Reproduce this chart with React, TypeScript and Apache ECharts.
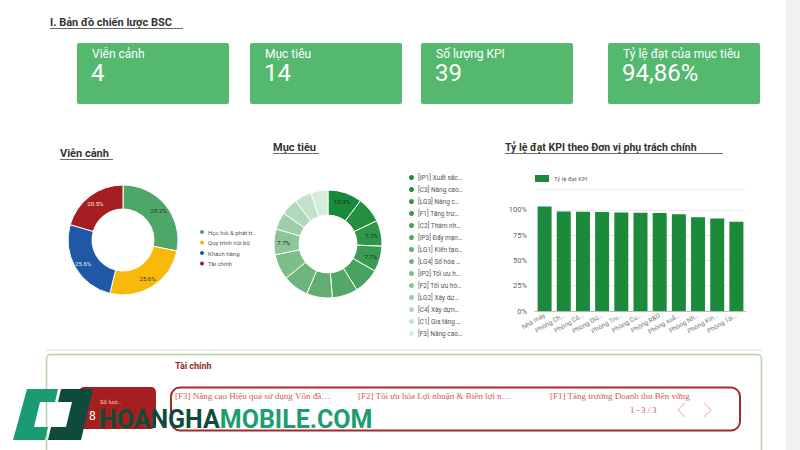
import React, { useEffect, useRef } from "react";
import * as echarts from "echarts";

const cardLabels = ["Viễn cảnh", "Mục tiêu", "Số lượng KPI", "Tỷ lệ đạt của mục tiêu"];
const cardValues = ["4", "14", "39", "94,86%"];

const vienCanhNames = ["Học hỏi & phát triển", "Quy trình nội bộ", "Khách hàng", "Tài chính"];
const vienCanhValues = [11, 10, 10, 8];

const mucTieuNames = [
  "[IP1] Xuất sắc…",
  "[C3] Nâng cao…",
  "[LG3] Nâng c…",
  "[F1] Tăng trư…",
  "[C2] Thâm nh…",
  "[IP3] Đẩy mạn…",
  "[LG1] Kiến tạo…",
  "[LG4] Số hóa …",
  "[IP2] Tối ưu h…",
  "[F2] Tối ưu hó…",
  "[LG2] Xây dự…",
  "[C4] Xây dựn…",
  "[C1] Gia tăng …",
  "[F3] Nâng cao…",
];
const mucTieuValues = [4, 3, 3, 3, 3, 3, 3, 3, 3, 3, 2, 2, 2, 2];
const mucTieuLabeled = [0, 2, 3, 9];

const donViNames = [
  "Nhà máy",
  "Phòng Ch…",
  "Phòng Cô…",
  "Phòng Dic…",
  "Phòng Tru…",
  "Phòng Cu…",
  "Phòng R&D",
  "Phòng xuấ…",
  "Phòng Nh…",
  "Phòng Kin…",
  "Phòng Tài…",
];
const tyLeDatKPI = [103.2, 98.2, 98.0, 97.8, 97.2, 97.0, 96.8, 95.6, 92.6, 91.4, 88.2];
const yTicks = [0, 25, 50, 75, 100];

const taiChinhTitle = "Tài chính";
const taiChinhCount = "8";
const taiChinhMucTieu = [
  "[F3] Nâng cao Hiệu quả sử dụng Vốn đầ…",
  "[F2] Tối ưu hóa Lợi nhuận & Biên lợi n…",
  "[F1] Tăng trưởng Doanh thu Bền vững",
];
const pagerText = "1 - 3 / 3";

const vienCanhColors = ["#4ea768", "#f9b90b", "#1f58a6", "#a51f22"];
const vienCanhLabelColors = ["#333", "#333", "#e8eef8", "#f5e6e6"];
const mucTieuColors = [
  "#188a3b", "#22903f", "#2e9649", "#3a9c52", "#46a25c", "#53a866", "#60ae71",
  "#6db57c", "#7cbd89", "#8cc597", "#9ecea7", "#b1d8b8", "#c4e2ca", "#d8ecdc",
];

const FONT = "Roboto, Arial, sans-serif";

export default function App() {
  const ref = useRef<HTMLDivElement>(null);
  useEffect(() => {
    if (!ref.current) return;
    const chart = echarts.init(ref.current, undefined, { renderer: "svg" });

    const cardX = [77, 250, 421, 608];
    const cardW = 152;
    const elements: any[] = [];
    elements.push({ type: "rect", shape: { x: 786, y: 0, width: 14, height: 450 }, style: { fill: "#f1f1f1" }, z: 0 });
    elements.push({
      type: "text", x: 50, y: 22,
      style: { text: "I. Bản đồ chiến lược BSC", fill: "#333", fontSize: 11, fontWeight: "bold", fontFamily: FONT, verticalAlign: "middle" },
    });
    elements.push({ type: "line", shape: { x1: 50, y1: 28.5, x2: 183, y2: 28.5 }, style: { stroke: "#444", lineWidth: 0.8 } });
    cardLabels.forEach((lab, i) => {
      elements.push({ type: "rect", shape: { x: cardX[i], y: 43, width: cardW, height: 61, r: 2 }, style: { fill: "#54b96f" } });
      elements.push({
        type: "text", x: cardX[i] + 15, y: 54,
        style: { text: lab, fill: "#fff", fontSize: 12, fontFamily: FONT, verticalAlign: "middle" },
      });
      elements.push({
        type: "text", x: cardX[i] + 14, y: 73,
        style: { text: cardValues[i], fill: "#fff", fontSize: 24, fontFamily: FONT, verticalAlign: "middle" },
      });
    });
    const secTitles: [string, number, number, number, number][] = [
      ["Viễn cảnh", 60, 153, 11, 53],
      ["Mục tiêu", 273, 147, 11, 46],
      ["Tỷ lệ đạt KPI theo Đơn vị phụ trách chính", 505, 147, 10.5, 218],
    ];
    secTitles.forEach(([t, x, y, fs, w]) => {
      elements.push({
        type: "text", x, y,
        style: { text: t, fill: "#333", fontSize: fs, fontWeight: "bold", fontFamily: FONT, verticalAlign: "middle" },
      });
      elements.push({ type: "line", shape: { x1: x, y1: y + 6.5, x2: x + w, y2: y + 6.5 }, style: { stroke: "#444", lineWidth: 0.8 } });
    });
    elements.push({ type: "line", shape: { x1: 46, y1: 350, x2: 762, y2: 350 }, style: { stroke: "#d6e4d0", lineWidth: 1 } });
    elements.push({ type: "rect", shape: { x: 46.5, y: 354.5, width: 715, height: 120, r: 4 }, style: { fill: "#fff", stroke: "#b5d2a8", lineWidth: 1.5 } });
    elements.push({
      type: "text", x: 175, y: 366,
      style: { text: taiChinhTitle, fill: "#8c2a2a", fontSize: 9, fontWeight: "bold", fontFamily: FONT, verticalAlign: "middle" },
    });
    elements.push({ type: "rect", shape: { x: 79, y: 387, width: 77, height: 42, r: 5 }, style: { fill: "#a61f1f" } });
    elements.push({
      type: "text", x: 100, y: 401,
      style: { text: "Số lượ…", fill: "#f3d6d6", fontSize: 6, fontFamily: FONT, verticalAlign: "middle" },
    });
    elements.push({
      type: "text", x: 89, y: 416,
      style: { text: taiChinhCount, fill: "#fff", fontSize: 12, fontFamily: FONT, verticalAlign: "middle" },
    });
    elements.push({ type: "rect", shape: { x: 171, y: 387.5, width: 569, height: 43, r: 9 }, style: { fill: "none", stroke: "#a3282c", lineWidth: 2 } });
    const mtX = [175, 358, 550];
    taiChinhMucTieu.forEach((t, i) => {
      elements.push({
        type: "text", x: mtX[i], y: 396,
        style: { text: t, fill: "#d05a55", fontSize: 9, fontFamily: "'Liberation Serif', serif", verticalAlign: "middle" },
      });
    });
    elements.push({
      type: "text", x: 630, y: 410,
      style: { text: pagerText, fill: "#c45a5a", fontSize: 8.5, fontFamily: "'Liberation Serif', serif", verticalAlign: "middle" },
    });
    elements.push({ type: "polyline", shape: { points: [[685, 403], [678, 410], [685, 417]] }, style: { stroke: "#f2c4c4", lineWidth: 1.2, fill: "none" } });
    elements.push({ type: "polyline", shape: { points: [[704, 403], [711, 410], [704, 417]] }, style: { stroke: "#f2c4c4", lineWidth: 1.2, fill: "none" } });
    // watermark logo
    elements.push({
      type: "polygon", z: 100,
      shape: { points: [[27, 389], [58, 389], [55, 402], [40, 402], [34, 427], [48, 427], [45, 440], [13, 440]] },
      style: { fill: "#1a9b74" },
    });
    elements.push({
      type: "polygon", z: 100,
      shape: { points: [[61, 389], [93, 389], [81, 440], [48, 440], [51, 427], [66, 427], [72, 402], [58, 402]] },
      style: { fill: "#0e4b3b" },
    });
    elements.push({
      type: "text", x: 99, y: 419, z: 100,
      style: {
        text: "{a|HOANGHA}{b|MOBILE.COM}",
        verticalAlign: "middle",
        rich: {
          a: { fill: "#0e4b3b", fontSize: 25, fontWeight: "bold", fontFamily: FONT },
          b: { fill: "#1f9c70", fontSize: 25, fontWeight: "bold", fontFamily: FONT },
        },
      },
    });

    const option: any = {
      animation: false,
      backgroundColor: "#fff",
      textStyle: { fontFamily: FONT },
      legend: [
        {
          data: vienCanhNames,
          orient: "vertical",
          left: 193,
          top: 223,
          icon: "circle",
          itemWidth: 6,
          itemHeight: 6,
          itemGap: 2.5,
          formatter: (n: string) => (n.length > 18 ? n.slice(0, 17) + "…" : n),
          textStyle: { fontSize: 6, color: "#555", lineHeight: 7, padding: [0, 0, 0, -2] },
        },
        {
          data: mucTieuNames,
          orient: "vertical",
          left: 402,
          top: 168,
          icon: "circle",
          itemWidth: 7,
          itemHeight: 7,
          itemGap: 3,
          textStyle: { fontSize: 6.5, color: "#555", lineHeight: 8, padding: [0, 0, 0, -2] },
        },
        {
          data: ["Tỷ lệ đạt KPI"],
          left: 530,
          top: 170,
          icon: "rect",
          itemWidth: 14,
          itemHeight: 7,
          textStyle: { fontSize: 6, color: "#666" },
        },
      ],
      grid: { left: 535, top: 189.5, width: 211, height: 121.5, containLabel: false },
      xAxis: {
        type: "category",
        data: donViNames,
        axisLine: { lineStyle: { color: "#bbb" } },
        axisTick: { show: false },
        axisLabel: { rotate: 30, fontSize: 6.5, color: "#777", interval: 0, margin: 4 },
      },
      yAxis: {
        type: "value",
        min: 0,
        max: 120,
        interval: 25,
        axisLine: { show: false },
        axisTick: { show: false },
        axisLabel: {
          fontSize: 7.5,
          color: "#666",
          margin: 8,
          formatter: (v: number) => (yTicks.includes(v) ? v + "%" : ""),
        },
        splitLine: { lineStyle: { color: "#ebebeb" } },
      },
      series: [
        {
          type: "pie",
          name: "Viễn cảnh",
          center: [123, 240],
          radius: [31, 55],
          startAngle: 90,
          clockwise: true,
          itemStyle: { borderColor: "#fff", borderWidth: 1 },
          label: {
            show: true,
            position: "inside",
            fontSize: 6,
            formatter: (p: any) => p.percent.toFixed(1) + "%",
          },
          labelLine: { show: false },
          data: vienCanhNames.map((n, i) => ({
            name: n,
            value: vienCanhValues[i],
            itemStyle: { color: vienCanhColors[i] },
            label: { color: vienCanhLabelColors[i] },
          })),
        },
        {
          type: "pie",
          name: "Mục tiêu",
          center: [328, 244],
          radius: [29, 54],
          startAngle: 90,
          clockwise: true,
          itemStyle: { borderColor: "#fff", borderWidth: 1 },
          label: {
            show: true,
            position: "inside",
            fontSize: 6,
            color: "#222",
            formatter: (p: any) => (mucTieuLabeled.includes(p.dataIndex) ? p.percent.toFixed(1) + "%" : ""),
          },
          labelLine: { show: false },
          data: mucTieuNames.map((n, i) => ({ name: n, value: mucTieuValues[i], itemStyle: { color: mucTieuColors[i] } })),
        },
        {
          type: "bar",
          name: "Tỷ lệ đạt KPI",
          data: tyLeDatKPI,
          barWidth: 14,
          itemStyle: { color: "#1b8a3b" },
        },
      ],
      graphic: { elements },
    };
    chart.setOption(option);
    return () => chart.dispose();
  }, []);
  return <div ref={ref} style={{ position: "absolute", left: 0, top: 0, width: 800, height: 450 }} />;
}
